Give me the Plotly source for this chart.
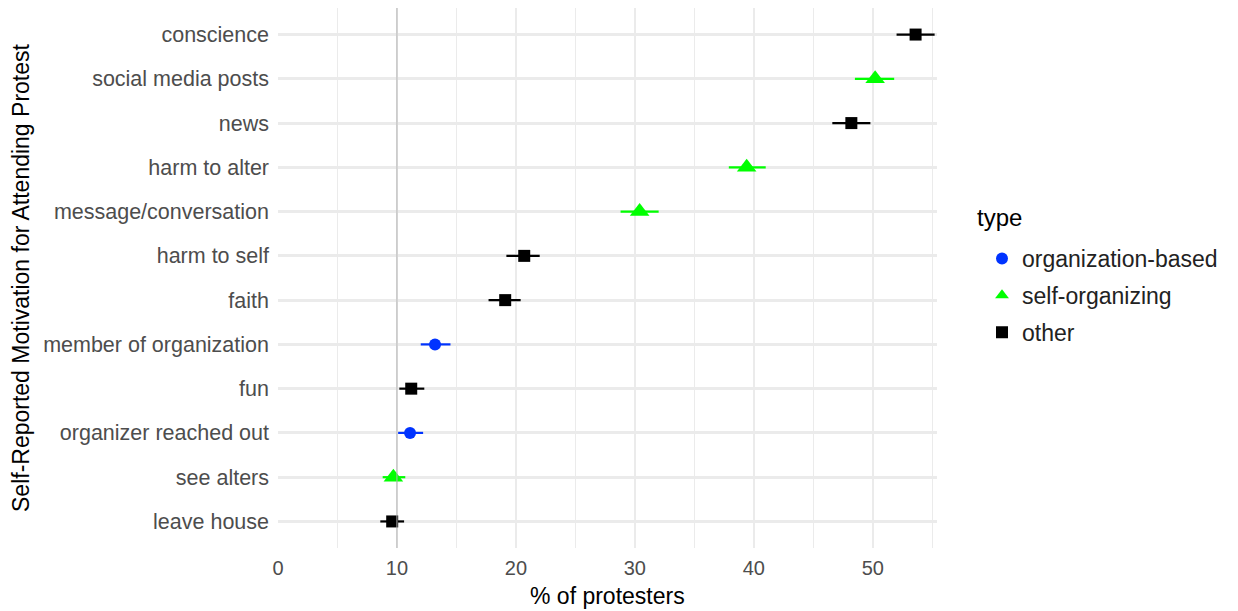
import plotly.graph_objects as go

categories = ["conscience", "social media posts", "news", "harm to alter",
              "message/conversation", "harm to self", "faith",
              "member of organization", "fun", "organizer reached out",
              "see alters", "leave house"]
types = ["other", "self-organizing", "other", "self-organizing",
         "self-organizing", "other", "other", "organization-based", "other",
         "organization-based", "self-organizing", "other"]
pct = [53.6, 50.2, 48.2, 39.4, 30.4, 20.7, 19.1, 13.2, 11.2, 11.1, 9.7, 9.6]
low = [52.0, 48.5, 46.6, 37.9, 28.8, 19.2, 17.7, 12.0, 10.2, 10.1, 8.8, 8.6]
high = [55.2, 51.8, 49.8, 41.0, 32.0, 22.0, 20.4, 14.5, 12.3, 12.2, 10.7, 10.6]

type_order = ["organization-based", "self-organizing", "other"]
colors = {"organization-based": "#0033ff", "self-organizing": "#00ff00", "other": "#000000"}
symbols = {"organization-based": "circle", "self-organizing": "triangle-up", "other": "square"}
sizes = {"organization-based": 12, "self-organizing": 17, "other": 12}

W, H = 1230, 603
L, R, T, B = 270, 301, 0, 63
PW, PH = W - L - R, H - T - B

fig = go.Figure()
for t in type_order:
    idx = [i for i, tt in enumerate(types) if tt == t]
    fig.add_trace(go.Scatter(
        x=[pct[i] for i in idx],
        y=[categories[i] for i in idx],
        mode="markers",
        name=t,
        legendgroup=t,
        marker=dict(color=colors[t], symbol=symbols[t], size=sizes[t]),
        error_x=dict(type="data", symmetric=False,
                     array=[high[i] - pct[i] for i in idx],
                     arrayminus=[pct[i] - low[i] for i in idx],
                     color=colors[t], thickness=2.2, width=0),
    ))

fig.add_vline(x=10, line=dict(color="#b4b4b4", width=1), layer="above")

fig.update_layout(
    width=W, height=H,
    margin=dict(l=L, r=R, t=T, b=B, autoexpand=False),
    plot_bgcolor="white", paper_bgcolor="white",
    font=dict(family="Liberation Sans, Arial, sans-serif", size=21, color="#4d4d4d"),
    xaxis=dict(range=[0, 55.4], tickvals=[0, 10, 20, 30, 40, 50],
               showgrid=True, gridcolor="#ebebeb", gridwidth=2,
               minor=dict(tickvals=[5, 15, 25, 35, 45, 55], showgrid=True,
                          gridcolor="#ebebeb", gridwidth=1.3),
               zeroline=False, showline=False, ticks="", automargin=False,
               ticklabelstandoff=6,
               tickfont=dict(size=20, color="#4d4d4d")),
    yaxis=dict(categoryorder="array", categoryarray=categories[::-1],
               range=[-0.6, 11.6], automargin=False,
               showgrid=True, gridcolor="#ebebeb", gridwidth=2.5,
               zeroline=False, showline=False, ticks="", ticklabelstandoff=8,
               tickfont=dict(size=21.5, color="#4d4d4d")),
    legend=dict(x=(974 - L) / PW, y=1 - 229 / PH, xanchor="left", yanchor="top",
                font=dict(size=23, color="#222222"),
                tracegroupgap=4, itemsizing="constant"),
    annotations=[
        dict(text="Self-Reported Motivation for Attending Protest",
             xref="paper", yref="paper", x=(13 - L) / PW, y=0.5,
             xanchor="center", yanchor="middle", textangle=-90,
             showarrow=False, font=dict(size=23, color="#000000")),
        dict(text="% of protesters",
             xref="paper", yref="paper", x=0.5, y=-(588 - PH) / PH,
             xanchor="center", yanchor="middle",
             showarrow=False, font=dict(size=23, color="#000000")),
        dict(text="type", xref="paper", yref="paper",
             x=(967 - L) / PW, y=1 - 209 / PH, xanchor="left", yanchor="middle",
             showarrow=False, font=dict(size=24, color="#000000")),
    ],
)

fig.write_html("out.html")
